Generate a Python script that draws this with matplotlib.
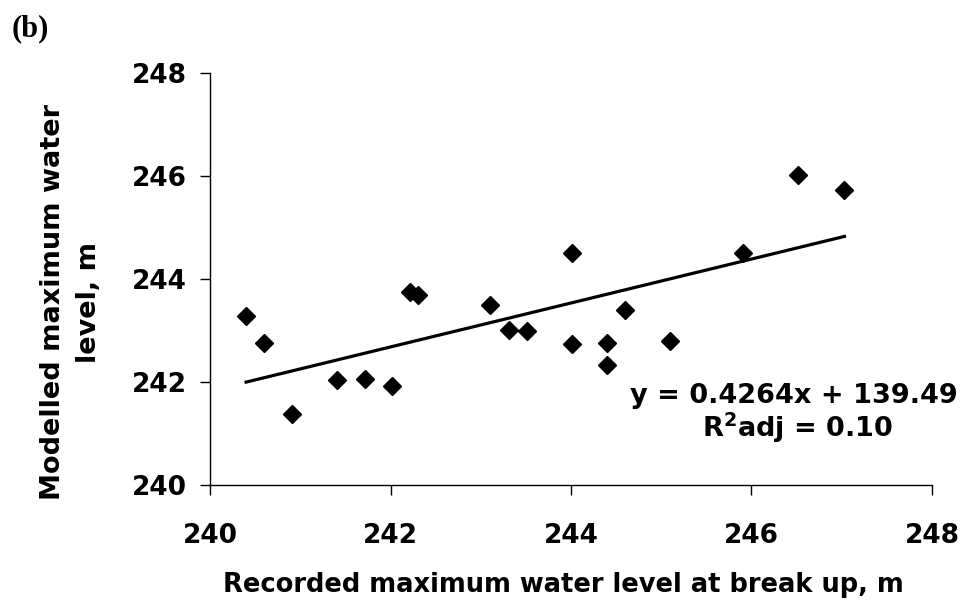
import matplotlib
matplotlib.use("Agg")
import matplotlib.pyplot as plt
import numpy as np

plt.rcParams['font.family'] = ['DejaVu Sans']
plt.rcParams['font.weight'] = 'bold'
plt.rcParams['axes.labelweight'] = 'bold'

# recorded vs modelled maximum water level at break up (m)
recorded = [240.40, 240.60, 240.91, 241.41, 241.72, 242.02, 242.22, 242.31,
            243.10, 243.31, 243.51, 244.01, 244.01, 244.40, 244.40, 244.60,
            245.10, 245.91, 246.52, 247.03]
modelled = [243.28, 242.75, 241.37, 242.03, 242.05, 241.93, 243.75, 243.68,
            243.49, 243.01, 242.98, 244.51, 242.74, 242.75, 242.33, 243.40,
            242.80, 244.50, 246.01, 245.73]
slope, intercept = 0.4264, 139.49
r2adj = 0.10
ticks = [240, 242, 244, 246, 248]

fig = plt.figure(figsize=(9.66, 6.12), dpi=100)
ax = fig.add_axes([0.2174, 0.2075, 0.7474, 0.6737])

ax.plot(recorded, modelled, 'D', color='black', markersize=9.5, zorder=3)

# linear trend line over the range of the data
xl = np.array([min(recorded), max(recorded)])
ax.plot(xl, slope * xl + intercept, color='black', lw=2.3, zorder=2)

ax.set_xlim(240, 248)
ax.set_ylim(240, 248)
ax.set_xticks(ticks)
ax.set_yticks(ticks)
for s in ['top', 'right']:
    ax.spines[s].set_visible(False)
for s in ['left', 'bottom']:
    ax.spines[s].set_linewidth(1.0)
ax.tick_params(direction='out', length=7, width=1.0, labelsize=19)
ax.tick_params(axis='x', pad=20)
ax.tick_params(axis='y', pad=10)

ax.set_xlabel('Recorded maximum water level at break up, m', fontsize=18.5)
ax.xaxis.set_label_coords(0.49, -0.2595)
ax.xaxis.label.set_va('baseline')

fig.text(0.0735, 0.5065, 'Modelled maximum water\nlevel, m', rotation=90,
         ha='center', va='center', fontsize=19.5,
         linespacing=1.5, multialignment='center')

ax.text(1.036, 0.199, 'y = %.4fx + %.2f' % (slope, intercept),
        transform=ax.transAxes, ha='right', va='baseline', fontsize=19.5)
ax.text(0.946, 0.1164, 'R$^\\mathbf{2}$adj = %.2f' % r2adj,
        transform=ax.transAxes, ha='right', va='baseline', fontsize=19.5)

fig.text(0.012, 1 - 14 / 612, '(b)', fontsize=22, va='top',
         family=['Liberation Serif', 'DejaVu Serif'])

fig.savefig('out.png', dpi=100)
